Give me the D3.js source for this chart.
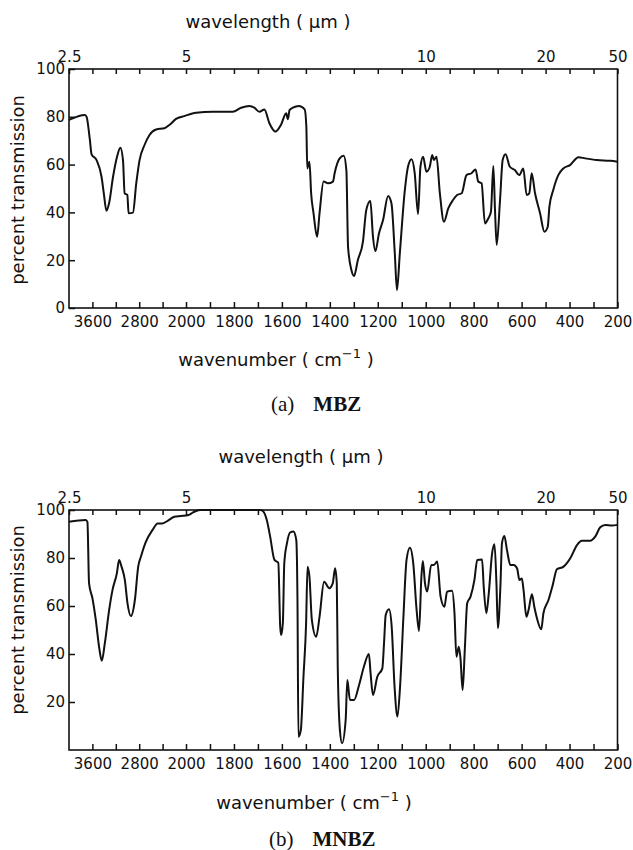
<!DOCTYPE html>
<html>
<head>
<meta charset="utf-8">
<script src="https://cdn.jsdelivr.net/npm/d3@7"></script>
<style>
  html, body { margin: 0; padding: 0; background: #fff; }
  svg text { font-family: "DejaVu Sans", sans-serif; fill: #111; }
</style>
</head>
<body>
<div id="chart"></div>
<script>
// IR spectra of MBZ and MNBZ, wavenumber axis with 4x expansion below 2000 cm-1

// MBZ spectrum (wavenumber cm-1, percent transmission)
const mbzWavenumber = [4000, 3728, 3699, 3643, 3614, 3529, 3444, 3405, 3360, 3315, 3247, 3179, 3122, 3077, 3049, 3003, 2981, 2907, 2850, 2794, 2709, 2624, 2510, 2369, 2284, 2170, 2029, 1958, 1889, 1805, 1770, 1735, 1715, 1694, 1673, 1652, 1627, 1604, 1582, 1575, 1568, 1554, 1529, 1505, 1498, 1494, 1485, 1478, 1468, 1453, 1443, 1426, 1408, 1387, 1380, 1359, 1342, 1331, 1324, 1310, 1299, 1283, 1262, 1248, 1231, 1220, 1210, 1195, 1178, 1157, 1143, 1129, 1120, 1108, 1087, 1074, 1059, 1046, 1032, 1022, 1011, 997, 983, 973, 966, 955, 941, 924, 906, 886, 869, 850, 830, 809, 792, 781, 767, 753, 739, 728, 718, 711, 704, 690, 679, 667, 649, 628, 610, 593, 579, 568, 558, 544, 523, 505, 491, 484, 468, 447, 426, 398, 363, 335, 286, 230, 200];
const mbzTransmission = [78.7, 80.8, 80, 70.3, 64.3, 61.9, 54.9, 48, 40.7, 43.8, 54.9, 63.3, 67.1, 61.9, 48, 47.3, 39.6, 39.9, 52.2, 61.9, 68.2, 72.4, 74.7, 75.2, 76.6, 79.1, 80.3, 81.7, 82.1, 82.1, 83.8, 84.5, 83.8, 82.1, 83.1, 77.3, 73.8, 76.6, 81.5, 79, 82.8, 83.8, 84.5, 83.1, 75.9, 58.4, 61.2, 48, 39.6, 29.8, 39.6, 52.9, 52.2, 52.9, 56.4, 62.6, 63.7, 57.7, 25.6, 15.9, 13.4, 20.1, 27.7, 41, 44.8, 29.8, 23.8, 31.2, 36.8, 46.9, 43.8, 22.9, 7.5, 22.9, 49.4, 59.1, 62.2, 56.4, 39.3, 59.1, 63.3, 57, 59.1, 64, 61.9, 63.3, 48, 36.1, 41.7, 45.2, 47.3, 48, 55.6, 56.4, 58, 52.9, 52.2, 35.4, 37.5, 40.3, 59.4, 41, 26.4, 45.2, 61.9, 64.3, 59.1, 57.7, 55.6, 58.4, 47.3, 48, 56.4, 48, 39.6, 31.9, 34, 42.4, 49.4, 55.6, 58.4, 59.8, 63.1, 62.6, 61.9, 61.6, 61.2];

// MNBZ spectrum
const mnbzWavenumber = [4000, 3714, 3685, 3657, 3599, 3542, 3486, 3440, 3388, 3314, 3256, 3182, 3143, 3102, 3045, 3000, 2942, 2874, 2817, 2771, 2685, 2571, 2485, 2400, 2313, 2200, 2086, 1990, 1972, 1958, 1940, 1690, 1677, 1663, 1649, 1631, 1615, 1607, 1603, 1596, 1590, 1579, 1565, 1552, 1540, 1535, 1531, 1521, 1510, 1499, 1493, 1485, 1475, 1457, 1443, 1424, 1402, 1388, 1378, 1371, 1367, 1358, 1349, 1334, 1327, 1316, 1299, 1278, 1258, 1237, 1230, 1220, 1202, 1181, 1174, 1167, 1153, 1142, 1130, 1118, 1107, 1093, 1080, 1066, 1052, 1038, 1028, 1018, 1012, 1003, 994, 977, 966, 952, 938, 922, 911, 890, 880, 872, 862, 855, 846, 837, 827, 813, 797, 785, 765, 758, 747, 737, 723, 713, 705, 699, 688, 682, 672, 661, 647, 633, 619, 609, 599, 592, 580, 571, 557, 547, 536, 518, 509, 488, 470, 453, 425, 397, 369, 349, 314, 293, 272, 251, 224, 200];
const mnbzTransmission = [95.1, 95.8, 95, 69.4, 63.2, 54.2, 43, 37.2, 44.4, 58.3, 66.7, 73.6, 79.2, 76.4, 70.8, 61.1, 55.8, 62.5, 76.4, 80.5, 86.8, 91.7, 94.4, 94.4, 95.5, 97.2, 97.5, 97.9, 98.9, 99.6, 100, 100, 99.3, 95.8, 88.9, 79.2, 78, 51.4, 47.9, 52.8, 77.8, 86.1, 90.7, 91, 87.5, 62.5, 5.5, 8.3, 30.5, 52.8, 76.4, 72.2, 54.2, 47.2, 55.5, 70.1, 67.4, 69.4, 75.7, 69.4, 34.7, 8.3, 2.8, 12.5, 29.2, 20.8, 20.8, 27.1, 34.7, 40, 31.9, 22.9, 30.5, 34, 44.4, 56.2, 58.6, 51.4, 26.4, 13.9, 26.4, 55.5, 79.2, 84.3, 77.8, 58.3, 49.6, 72.2, 78.8, 69.4, 66, 77.1, 77.1, 78.5, 63.9, 59.7, 66, 66.4, 57, 38.9, 43, 38.2, 25, 41.7, 61.1, 63.9, 70.8, 79.2, 79.4, 68, 57, 65.3, 82, 85.7, 69.4, 50.7, 69.4, 86.1, 89.2, 83.3, 77.1, 77.1, 75.7, 70.8, 71.5, 66.7, 55.5, 58.3, 64.9, 59.7, 54.9, 50.3, 57, 62.5, 68.8, 75.3, 76.4, 79.9, 85.4, 87.2, 87.2, 88.9, 92.8, 93.8, 93.5, 93.8];

// axis ticks
const wavenumberTicks = [3600, 3200, 2800, 2400, 2000, 1900, 1800, 1700, 1600, 1500, 1400, 1300, 1200, 1100, 1000, 900, 800, 700, 600, 500, 400, 300, 200];
const wavenumberLabels = [3600, 2800, 2000, 1800, 1600, 1400, 1200, 1000, 800, 600, 400, 200];
const wavelengthLabels = [2.5, 5, 10, 20, 50];
const yTicksA = [0, 20, 40, 60, 80, 100];
const yTicksB = [20, 40, 60, 80, 100];

const width = 633, height = 850;
const left = 69, split = 186, right = 617.5;

const panels = [
  { tag: "(a)", name: "MBZ", wn: mbzWavenumber, tr: mbzTransmission, yTicks: yTicksA,
    top: 69, bottom: 308, titleX: 268, titleY: 28, xTitleX: 276, xTitleY: 366, yTitleY: 190, capX: 271, capY: 411 },
  { tag: "(b)", name: "MNBZ", wn: mnbzWavenumber, tr: mnbzTransmission, yTicks: yTicksB,
    top: 510, bottom: 750, titleX: 301, titleY: 463, xTitleX: 314, xTitleY: 809, yTitleY: 620, capX: 269, capY: 846 }
];

const svg = d3.select("#chart").append("svg")
  .attr("width", width)
  .attr("height", height);

const x = d3.scaleLinear()
  .domain([4000, 2000, 200])
  .range([left, split, right]);

panels.forEach(p => {
  const y = d3.scaleLinear().domain([0, 100]).range([p.bottom, p.top]);
  const g = svg.append("g");

  // bottom axis, ticks pointing inward
  const bottomAxis = g.append("g")
    .attr("transform", `translate(0,${p.bottom})`)
    .call(d3.axisBottom(x)
      .tickValues(wavenumberTicks)
      .tickSize(-6)
      .tickPadding(8.5)
      .tickFormat(d => wavenumberLabels.includes(d) ? d : ""));

  // top axis in wavelength
  const topAxis = g.append("g")
    .attr("transform", `translate(0,${p.top})`)
    .call(d3.axisTop(x)
      .tickValues([4000].concat(wavenumberTicks))
      .tickSize(-5)
      .tickPadding(7.5)
      .tickFormat(d => {
        const lam = 1e4 / d;
        return wavelengthLabels.find(l => Math.abs(l - lam) < 1e-6) !== undefined ? String(+lam.toFixed(1)) : "";
      }));

  const leftAxis = g.append("g")
    .attr("transform", `translate(${left},0)`)
    .call(d3.axisLeft(y)
      .tickValues(p.yTicks)
      .tickSize(-6)
      .tickPadding(4));

  [bottomAxis, topAxis, leftAxis].forEach(a => {
    a.select(".domain").remove();
    a.selectAll("line").attr("stroke", "#111").attr("stroke-width", 1.5);
    a.selectAll("text")
      .style("font-family", "'DejaVu Sans', sans-serif")
      .style("font-size", "15px")
      .attr("fill", "#111");
  });

  // frame
  g.append("rect")
    .attr("x", left)
    .attr("y", p.top)
    .attr("width", right - left)
    .attr("height", p.bottom - p.top)
    .attr("fill", "none")
    .attr("stroke", "#111")
    .attr("stroke-width", 1.6);

  // spectrum
  const pts = p.wn.map((w, i) => [w, p.tr[i]]);
  g.append("path")
    .datum(pts)
    .attr("fill", "none")
    .attr("stroke", "#111")
    .attr("stroke-width", 2)
    .attr("stroke-linejoin", "round")
    .attr("d", d3.line()
      .x(d => x(d[0]))
      .y(d => y(d[1]))
      .curve(d3.curveMonotoneX));

  // axis titles
  g.append("text")
    .attr("x", p.titleX)
    .attr("y", p.titleY)
    .attr("text-anchor", "middle")
    .style("font-size", "18px")
    .text("wavelength ( \u00b5m )");

  const xt = g.append("text")
    .attr("x", p.xTitleX)
    .attr("y", p.xTitleY)
    .attr("text-anchor", "middle")
    .style("font-size", "18px");
  xt.append("tspan").text("wavenumber ( cm");
  xt.append("tspan").attr("dy", -8).style("font-size", "13px").text("\u22121");
  xt.append("tspan").attr("dy", 8).text(" )");

  g.append("text")
    .attr("transform", `translate(23.5,${p.yTitleY}) rotate(-90)`)
    .attr("text-anchor", "middle")
    .style("font-size", "18px")
    .text("percent transmission");

  // caption
  const cap = g.append("text")
    .attr("x", p.capX)
    .attr("y", p.capY)
    .attr("text-anchor", "start")
    .style("font-family", "'Liberation Serif', serif")
    .style("font-size", "21px");
  cap.append("tspan").text(p.tag);
  cap.append("tspan").attr("dx", 19).style("font-weight", "bold").text(p.name);
});
</script>
</body>
</html>
